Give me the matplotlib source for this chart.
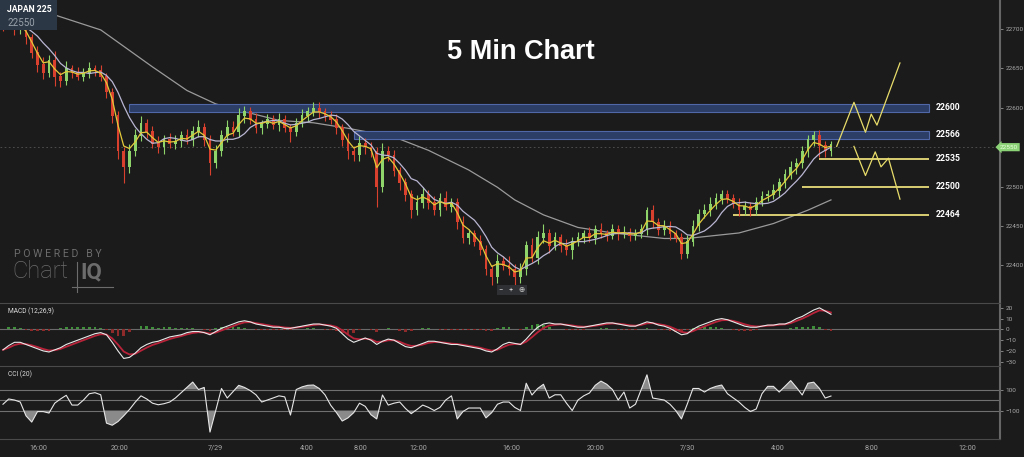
import numpy as np
import pandas as pd
import matplotlib
matplotlib.use('Agg')
import matplotlib.pyplot as plt
from matplotlib.patches import Rectangle
from matplotlib.lines import Line2D

# 15분봉 종가
closes = [
    22705, 22712, 22700, 22705, 22690, 22670, 22655, 22645, 22660, 22640,
    22635, 22650, 22645, 22640, 22645, 22650, 22648, 22640, 22620, 22590,
    22545, 22525, 22545, 22565, 22580, 22570, 22555, 22550, 22560, 22555,
    22558, 22565, 22560, 22570, 22575, 22560, 22530, 22545, 22565, 22575,
    22570, 22590, 22595, 22585, 22575, 22580, 22585, 22578, 22585, 22575,
    22570, 22580, 22590, 22595, 22600, 22595, 22590, 22585, 22575, 22560,
    22545, 22540, 22555, 22550, 22545, 22500, 22545, 22540, 22520, 22505,
    22490, 22470, 22480, 22490, 22480, 22470, 22485, 22475, 22480, 22455,
    22435, 22440, 22430, 22420, 22395, 22385, 22405, 22400, 22395, 22385,
    22395, 22425, 22410, 22435, 22440, 22425, 22435, 22425, 22420, 22430,
    22435, 22440, 22435, 22445, 22440, 22438, 22445, 22440, 22442, 22438,
    22440, 22445, 22470, 22455, 22445, 22450, 22440, 22435, 22415, 22430,
    22450, 22465, 22470, 22478, 22485, 22490, 22485, 22478, 22470, 22475,
    22470, 22480, 22488, 22490, 22495, 22505, 22515, 22525, 22530, 22545,
    22560, 22565, 22552, 22545, 22553,
]
wick_hi = [
    6, 8, 5, 7, 6, 4, 8, 10, 7, 12,
    6, 9, 5, 7, 6, 8, 5, 6, 4, 5,
    6, 5, 9, 8, 10, 6, 7, 9, 6, 8,
    7, 6, 8, 7, 9, 6, 5, 8, 7, 9,
    8, 10, 7, 6, 8, 5, 7, 6, 8, 6,
    5, 7, 8, 6, 8, 7, 5, 6, 7, 5,
    8, 6, 9, 7, 6, 5, 10, 7, 6, 5,
    6, 5, 9, 10, 6, 8, 7, 9, 6, 5,
    7, 6, 5, 8, 6, 5, 9, 7, 12, 6,
    8, 6, 10, 8, 12, 6, 7, 5, 8, 6,
    7, 5, 8, 6, 9, 5, 7, 6, 8, 5,
    6, 7, 4, 6, 5, 7, 6, 5, 6, 8,
    7, 6, 8, 9, 7, 5, 6, 5, 7, 6,
    5, 7, 6, 5, 8, 6, 7, 8, 6, 7,
    6, 5, 7, 6, 5,
]
wick_lo = [
    7, 5, 8, 6, 9, 7, 10, 8, 6, 12,
    8, 6, 7, 5, 6, 7, 8, 6, 7, 9,
    10, 20, 8, 6, 7, 8, 6, 7, 9, 6,
    7, 8, 6, 9, 7, 8, 15, 7, 6, 8,
    6, 7, 9, 6, 7, 8, 6, 5, 7, 6,
    14, 6, 5, 7, 6, 8, 7, 6, 8, 9,
    10, 8, 7, 9, 8, 26, 7, 8, 6, 9,
    8, 10, 6, 7, 8, 6, 7, 5, 8, 9,
    7, 8, 6, 7, 8, 10, 7, 6, 8, 15,
    7, 8, 6, 9, 7, 10, 6, 8, 7, 12,
    6, 7, 5, 8, 6, 7, 5, 8, 6, 7,
    6, 5, 7, 8, 6, 7, 8, 6, 7, 6,
    6, 7, 5, 8, 6, 7, 6, 5, 7, 6,
    8, 6, 5, 7, 6, 8, 7, 6, 9, 7,
    8, 9, 14, 7, 6,
]

# 장기 이동평균 (봉 번호, 값)
ma_long_bars = [0, 9, 17, 26, 32, 37, 41, 48, 54, 60, 68, 74, 81, 86, 89, 94,
                100, 106, 115, 119, 128, 134, 140, 144]
ma_long_vals = [22745, 22718, 22699, 22652, 22622, 22605, 22597, 22584, 22581,
                22574, 22563, 22546, 22521, 22499, 22483, 22464, 22448, 22441,
                22434, 22434, 22441, 22453, 22470, 22483]

macd_vals = [
    -19, -15, -12, -12, -14, -16, -18, -20, -21, -19,
    -17, -14, -12, -10, -8, -6, -4, -3, -5, -12,
    -20, -27, -26, -22, -17, -14, -12, -11, -9, -7,
    -6, -5, -3, -2, -2, -3, -5, -2, 1, 3,
    5, 7, 8, 7, 5, 4, 3, 2, 2, 1,
    1, 2, 3, 4, 5, 5, 4, 3, 1, -4,
    -9, -12, -10, -8, -10, -14, -11, -9, -10, -13,
    -16, -17, -15, -13, -11, -11, -12, -13, -14, -14,
    -15, -16, -17, -18, -20, -21, -18, -14, -12, -13,
    -14, -9, -3, 2, 5, 6, 5, 5, 4, 3,
    2, 2, 3, 4, 5, 6, 6, 5, 4, 3,
    3, 5, 7, 6, 4, 3, 1, -2, -5, -4,
    0, 3, 5, 7, 9, 10, 9, 7, 5, 3,
    2, 2, 3, 4, 4, 5, 5, 7, 10, 12,
    15, 18, 20, 17, 14,
]
cci_vals = [
    -40, 10, 0, -19, -150, -210, -110, -110, -124, -30,
    10, 45, -48, -48, 0, 60, 70, 50, -220, -240,
    -205, -150, -90, -20, 40, 10, -30, -45, -35, -19,
    20, 70, 120, 171, 100, 120, -305, -100, 110, 19,
    80, 140, 120, 90, 50, -19, 0, 20, 40, 30,
    -143, 100, 125, 140, 143, 110, 50, -50, -120, -200,
    -170, -120, -30, -60, -140, -180, 48, -48, -30, -19,
    -80, -130, -90, -48, -70, -100, -70, 0, 40, -180,
    -110, -76, -76, -76, -170, -120, -40, -19, -19, -70,
    -100, 160, 48, 110, 150, 19, 50, 50, -30, -100,
    0, 40, 67, 140, 180, 150, 100, 0, 76, -76,
    -40, 100, 240, 19, 10, 0, -40, -100, -180, -40,
    110, 110, 76, 110, 130, 143, 60, 20, -19, -70,
    -110, -85, 60, 130, 130, 76, 130, 185, 120, 48,
    160, 170, 110, 19, 38,
]

# 지지/저항 레벨
zone_levels = [22600, 22566]
zone_start = [22, 61]
line_levels = [22535, 22500, 22464]
line_start = [142, 139, 127]
level_end = 161

# 예상 경로
up_bars = [145, 148, 150, 151, 152, 156]
up_vals = [22551, 22607, 22569, 22592, 22578, 22657]
dn_bars = [148, 150, 151.7, 152.7, 154, 156]
dn_vals = [22551, 22514, 22544, 22525, 22536, 22484]

last_price = 22550
time_ticks = [6.1, 20.3, 36.9, 52.9, 62.1, 72.3, 88.5, 103, 119, 134.8, 151.1, 167.7]
time_labels = ['16:00', '20:00', '7/29', '4:00', '8:00', '12:00', '16:00',
               '20:00', '7/30', '4:00', '8:00', '12:00']

BG = '#1b1b1b'
plt.rcParams['font.family'] = ['Roboto', 'DejaVu Sans']

n = len(closes)
idx = np.arange(n)
close = np.array(closes, dtype=float)
opens = np.concatenate([[close[0] + 4], close[:-1]])
top = np.maximum(opens, close)
bot = np.minimum(opens, close)
high = top + np.array(wick_hi)
low = bot - np.array(wick_lo)

fig = plt.figure(figsize=(10.24, 4.57), dpi=100, facecolor=BG)
W = 1000 / 1024
ax = fig.add_axes([0, 1 - 303 / 457, W, 303 / 457], facecolor=BG)
ax_m = fig.add_axes([0, 1 - 366 / 457, W, 63 / 457], facecolor=BG, sharex=ax)
ax_c = fig.add_axes([0, 1 - 439 / 457, W, 73 / 457], facecolor=BG, sharex=ax)

xlim = (-0.52, 173.4)

# 캔들
up = close >= opens
col = np.where(up, '#8fd46a', '#d9412e')
ax.vlines(idx, low, high, colors=col, lw=0.8, zorder=3)
ax.bar(idx, top - bot + 0.8, bottom=bot - 0.4, width=0.5, color=col, zorder=4)

ema_fast = pd.Series(close).ewm(span=3, adjust=False).mean()
sma_mid = pd.Series(close).rolling(7, min_periods=1).mean()
ax.plot(idx, sma_mid, color='#b9b6d3', lw=0.9, zorder=5)
ax.plot(idx, ema_fast, color='#e3c93a', lw=0.9, zorder=6)
ax.plot(ma_long_bars, ma_long_vals, color='#9a9a9a', lw=0.9, zorder=2)

ax.axhline(last_price, color='#555555', lw=0.6, ls=(0, (2, 3)), zorder=1)

for lv, st in zip(zone_levels, zone_start):
    ax.add_patch(Rectangle((st, lv - 5), level_end - st, 10, facecolor='#2c3d66',
                           edgecolor='#5068a8', lw=0.8, zorder=2))
    ax.text(level_end + 1.2, lv, str(lv), color='white', fontsize=6.2,
            fontweight='bold', va='center', ha='left')
for lv, st in zip(line_levels, line_start):
    ax.hlines(lv, st, level_end, color='#e8dc7a', lw=1.3, zorder=2)
    ax.text(level_end + 1.2, lv, str(lv), color='white', fontsize=6.2,
            fontweight='bold', va='center', ha='left')

ax.plot(up_bars, up_vals, color='#e8dc6a', lw=0.9)
ax.plot(dn_bars, dn_vals, color='#e8dc6a', lw=0.9)

ax.set_xlim(*xlim)
ax.set_ylim(22352, 22737)
ax.set_yticks([22400, 22450, 22500, 22600, 22650, 22700])
ax.text(1.0, last_price, str(last_price), transform=ax.get_yaxis_transform(),
        fontsize=4.6, color='#eaffdf', ha='left', va='center', zorder=10,
        bbox=dict(boxstyle='larrow,pad=0.25', facecolor='#8cd277', edgecolor='none'),
        clip_on=False)

ax.text(0.521, 0.828, '5 Min Chart', transform=ax.transAxes,
        ha='center', va='center', fontsize=19.5, fontweight='bold', color='white',
        family=['Liberation Sans', 'DejaVu Sans'])

# MACD
macd = pd.Series(macd_vals, dtype=float)
signal = macd.ewm(span=3, adjust=False).mean()
hist = macd - signal
ax_m.bar(idx, hist, width=0.5, color=np.where(hist >= 0, '#3f8f3a', '#8f2a2a'), zorder=2)
ax_m.axhline(0, color='#6a6a6a', lw=0.8, zorder=1)
ax_m.plot(idx, signal, color='#b8233a', lw=1.3, zorder=3)
ax_m.plot(idx, macd, color='#e8e8e8', lw=0.8, zorder=4)
ax_m.set_ylim(-34, 24.5)
ax_m.set_yticks([20, 10, 0, -10, -20, -30])
ax_m.text(0.008, 0.87, 'MACD (12,26,9)', transform=ax_m.transAxes, fontsize=4.8,
          color='#dddddd', va='center')

# CCI
cci = np.array(cci_vals, dtype=float)
for lv in (100, 0, -100):
    ax_c.axhline(lv, color='#707070', lw=0.8, zorder=1)
ax_c.fill_between(idx, 100, cci, where=cci > 100, interpolate=True, color='#8a8a8a', lw=0, zorder=2)
ax_c.fill_between(idx, -100, cci, where=cci < -100, interpolate=True, color='#8a8a8a', lw=0, zorder=2)
ax_c.plot(idx, cci, color='#e6e6e6', lw=0.8, zorder=3)
ax_c.set_ylim(-371, 324)
ax_c.set_yticks([100, -100])
ax_c.text(0.008, 0.89, 'CCI (20)', transform=ax_c.transAxes, fontsize=4.8,
          color='#dddddd', va='center')

for a in (ax, ax_m, ax_c):
    a.yaxis.tick_right()
    a.tick_params(axis='y', colors='#aaaaaa', labelsize=4.6, length=2, width=0.5, pad=2)
    a.tick_params(axis='x', length=0)
    for s in ('left', 'top', 'bottom'):
        a.spines[s].set_visible(False)
    a.spines['right'].set_color('#666666')
    a.spines['right'].set_linewidth(1.5)
    a.set_xlim(*xlim)

for a in (ax_m, ax_c):
    a.spines['top'].set_visible(True)
    a.spines['top'].set_color('#4a4a4a')
ax_c.spines['bottom'].set_visible(True)
ax_c.spines['bottom'].set_color('#4a4a4a')

plt.setp(ax.get_xticklabels(), visible=False)
plt.setp(ax_m.get_xticklabels(), visible=False)
ax_c.set_xticks(time_ticks)
ax_c.set_xticklabels(time_labels)
ax_c.tick_params(axis='x', colors='#aaaaaa', labelsize=5.2, pad=4)

# 좌상단 종목 박스
fig.patches.append(Rectangle((0, 1 - 30 / 457), 57 / 1024, 30 / 457, transform=fig.transFigure,
                             facecolor='#2b3744', edgecolor='none', zorder=20))
fig.text(7 / 1024, 1 - 10 / 457, 'JAPAN 225', color='white', fontsize=6.2, fontweight='bold',
         va='center', zorder=21)
fig.text(7 / 1024, 1 - 23 / 457, '22550', color='#9aa3ad', fontsize=7, va='center', zorder=21)

# ChartIQ 워터마크
wm = '#6c6c6c'
fig.text(14 / 1024, 1 - 254 / 457, 'P O W E R E D   B Y', color=wm, fontsize=7.6,
         va='center')
fig.text(12 / 1024, 1 - 272 / 457, 'Chart', color=wm, fontsize=17, fontweight='light',
         va='center')
fig.text(80 / 1024, 1 - 272 / 457, 'IQ', color=wm, fontsize=16, fontweight='bold',
         va='center')
fig.lines.append(Line2D([77 / 1024, 77 / 1024], [1 - 262 / 457, 1 - 292 / 457],
                        transform=fig.transFigure, color=wm, lw=0.8))
fig.lines.append(Line2D([72 / 1024, 113 / 1024], [1 - 287 / 457, 1 - 287 / 457],
                        transform=fig.transFigure, color=wm, lw=0.8))

# 줌 버튼
fig.text(512 / 1024, 1 - 290 / 457, '−   +   ⊕', color='#cfcfcf', fontsize=5.5,
         ha='center', va='center', zorder=20,
         bbox=dict(boxstyle='square,pad=0.3', facecolor='#2e3033', edgecolor='none'))

fig.savefig('out.png', dpi=100, facecolor=BG)
